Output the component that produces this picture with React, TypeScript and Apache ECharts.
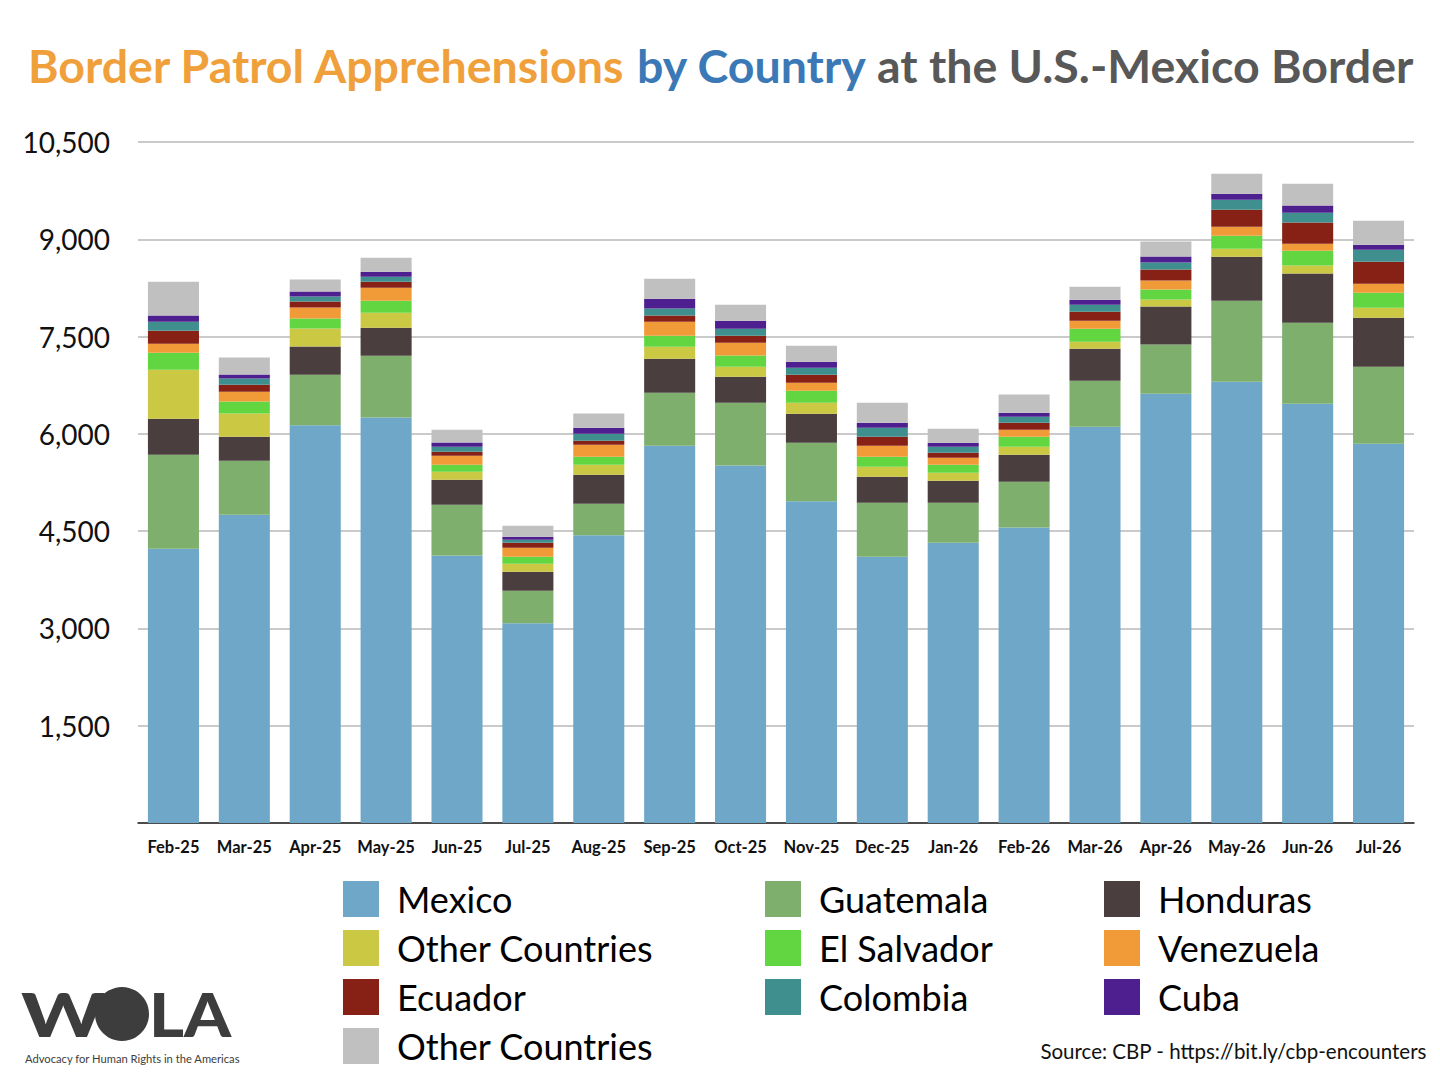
import React, { useEffect, useRef } from "react";
import * as echarts from "echarts";

const categories = [
  "Feb-25", "Mar-25", "Apr-25", "May-25", "Jun-25", "Jul-25", "Aug-25", "Sep-25", "Oct-25",
  "Nov-25", "Dec-25", "Jan-26", "Feb-26", "Mar-26", "Apr-26", "May-26", "Jun-26", "Jul-26",
];

const yTicks = [0, 1500, 3000, 4500, 6000, 7500, 9000, 10500];

const mexico = [4230, 4754, 6131, 6254, 4126, 3078, 4435, 5818, 5514, 4959, 4106, 4322, 4558, 6111, 6620, 6805, 6466, 5849];
const guatemala = [1449, 833, 782, 951, 782, 504, 489, 817, 967, 905, 833, 617, 705, 709, 756, 1249, 1249, 1187];
const honduras = [555, 370, 432, 432, 386, 293, 447, 524, 401, 447, 401, 339, 416, 493, 586, 678, 756, 756];
const otherCountriesA = [756, 355, 278, 231, 123, 123, 154, 185, 154, 170, 154, 123, 123, 108, 108, 123, 123, 154];
const elSalvador = [262, 185, 154, 185, 108, 108, 123, 170, 174, 185, 154, 123, 154, 200, 154, 200, 231, 231];
const venezuela = [139, 154, 170, 200, 139, 139, 185, 216, 196, 123, 170, 108, 108, 123, 139, 139, 108, 139];
const ecuador = [200, 108, 93, 93, 62, 77, 62, 93, 108, 123, 139, 77, 108, 139, 170, 262, 324, 339];
const colombia = [139, 93, 77, 77, 77, 46, 108, 108, 108, 108, 139, 93, 93, 108, 108, 154, 154, 185];
const cuba = [93, 62, 77, 77, 62, 46, 93, 154, 123, 93, 77, 62, 62, 77, 93, 93, 108, 77];
const otherCountriesB = [524, 262, 185, 216, 200, 170, 216, 308, 247, 247, 308, 216, 278, 200, 231, 308, 339, 370];

const seriesDefs = [
  { name: "Mexico", data: mexico, color: "#6ea7c7" },
  { name: "Guatemala", data: guatemala, color: "#7eaf6c" },
  { name: "Honduras", data: honduras, color: "#4a3e3e" },
  { name: "Other Countries", data: otherCountriesA, color: "#cbc843" },
  { name: "El Salvador", data: elSalvador, color: "#61d641" },
  { name: "Venezuela", data: venezuela, color: "#f19a38" },
  { name: "Ecuador", data: ecuador, color: "#872115" },
  { name: "Colombia", data: colombia, color: "#3f8f8f" },
  { name: "Cuba", data: cuba, color: "#4e1f8e" },
  { name: "Other Countries ", data: otherCountriesB, color: "#c0c0c0" },
];

const legendCols = [
  ["Mexico", "Other Countries", "Ecuador", "Other Countries "],
  ["Guatemala", "El Salvador", "Colombia"],
  ["Honduras", "Venezuela", "Cuba"],
];
const legendLefts = [338, 760, 1099];

const FONT = "Lato, 'Open Sans', sans-serif";

export default function App() {
  const ref = useRef<HTMLDivElement>(null);

  useEffect(() => {
    document.body.style.margin = "0";
    if (!ref.current) return;
    const chart = echarts.init(ref.current, undefined, { renderer: "svg" });

    const titleStyle = (color: string) => ({ color, fontSize: 46.5, fontWeight: "bold", fontFamily: FONT });

    const option: any = {
      animation: false,
      backgroundColor: "#ffffff",
      textStyle: { fontFamily: FONT },
      title: {
        left: "center",
        top: 36,
        text: "{a|Border Patrol Apprehensions }{b|by Country }{c|at the U.S.-Mexico Border}",
        textStyle: {
          rich: {
            a: titleStyle("#f0a03b"),
            b: titleStyle("#3b78b6"),
            c: titleStyle("#585858"),
          },
        },
      },
      grid: { left: 138, right: 26, top: 142, bottom: 257, containLabel: false },
      xAxis: {
        type: "category",
        data: categories,
        axisLine: { lineStyle: { color: "#222", width: 1.5 } },
        axisTick: { show: false },
        axisLabel: { interval: 0, color: "#111", fontSize: 16.5, fontWeight: "bold", margin: 15, fontFamily: FONT },
      },
      yAxis: {
        type: "value",
        min: yTicks[0],
        max: yTicks[yTicks.length - 1],
        interval: yTicks[1] - yTicks[0],
        axisLine: { show: false },
        axisTick: { show: false },
        axisLabel: {
          color: "#111",
          fontSize: 28,
          margin: 28,
          fontFamily: FONT,
          formatter: (v: number) => (v === 0 ? "" : v.toLocaleString("en-US")),
        },
        splitLine: { lineStyle: { color: "#b8b8b8", width: 1.5 } },
      },
      legend: legendCols.map((col, i) => ({
        data: col,
        orient: "vertical",
        left: legendLefts[i],
        top: 876,
        itemWidth: 36,
        itemHeight: 36,
        itemGap: 13,
        icon: "rect",
        selectedMode: false,
        formatter: (n: string) => n.trim(),
        textStyle: { fontSize: 36, color: "#000", fontFamily: FONT, padding: [0, 0, 0, 13] },
      })),
      series: seriesDefs.map((s) => ({
        name: s.name,
        type: "bar",
        stack: "total",
        data: s.data,
        barCategoryGap: "28%",
        itemStyle: { color: s.color },
        emphasis: { disabled: true },
      })),
      graphic: [
        {
          type: "text",
          right: 13,
          top: 1040,
          style: { text: "Source: CBP - https://bit.ly/cbp-encounters", fill: "#111", font: `20.5px ${FONT}` },
        },
        {
          type: "text",
          x: 21,
          y: 1014,
          scaleX: 1.33,
          style: { text: "W", font: `900 60px ${FONT}`, fill: "#3d3d3d", verticalAlign: "middle", lineHeight: 44 },
        },
        {
          type: "circle",
          shape: { cx: 122, cy: 1014, r: 27 },
          style: { fill: "#3d3d3d" },
        },
        {
          type: "text",
          x: 149,
          y: 1014,
          scaleX: 1.12,
          style: { text: "LA", font: `900 60px ${FONT}`, fill: "#3d3d3d", verticalAlign: "middle", lineHeight: 44 },
        },
        {
          type: "text",
          x: 25,
          y: 1058,
          style: { text: "Advocacy for Human Rights in the Americas", font: `11.2px ${FONT}`, fill: "#3d3d3d", verticalAlign: "middle", lineHeight: 12 },
        },
      ],
    };

    chart.setOption(option);
    return () => chart.dispose();
  }, []);

  return <div ref={ref} style={{ width: 1440, height: 1080 }} />;
}
